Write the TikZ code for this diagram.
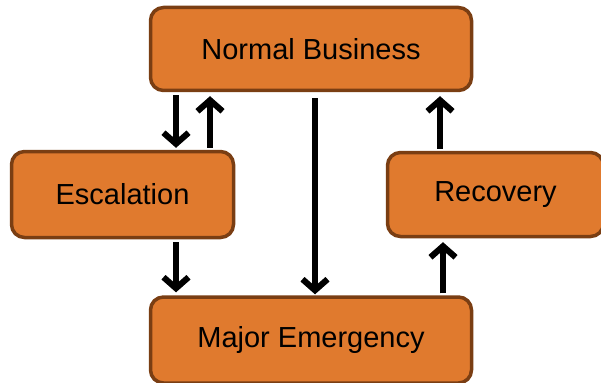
\documentclass[tikz,border=0pt]{standalone}
\usepackage{fontspec}
\setmainfont{Liberation Sans}
\usetikzlibrary{arrows.meta}
\definecolor{boxfill}{HTML}{E07A2E}
\definecolor{boxline}{HTML}{7A3E13}
\begin{document}
\begin{tikzpicture}[x=1pt,y=-1pt,
  stage/.style={draw=boxline, fill=boxfill, line width=3.5pt, rounded corners=13pt,
    inner sep=0pt, font=\fontsize{29}{34}\selectfont},
  flow/.style={draw=black, line width=6pt, -{Straight Barb[length=11pt,width=25pt]}},
  flowshade/.style={draw=black!35, line width=6pt, -{Straight Barb[length=11pt,width=25pt]}}
]
\useasboundingbox (0,0) rectangle (601,382);

% the four stages
\node[stage, minimum width=321pt, minimum height=83pt] (nb) at (311,49) {Normal Business};
\node[stage, minimum width=222pt, minimum height=86pt] (esc) at (122.5,194.5) {Escalation};
\node[stage, minimum width=216pt, minimum height=84pt] (rec) at (495.5,194.5) {Recovery};
\node[stage, minimum width=321pt, minimum height=86pt] (me) at (311,340) {Major Emergency};

% soft shade under each transition
\begin{scope}[yshift=-2.5pt]
  \draw[flowshade, shorten <=3pt, shorten >=2pt] (nb.south -| 176,0) -- (esc.north -| 176,0);
  \draw[flowshade, shorten <=2pt, shorten >=4pt] (esc.north -| 210,0) -- (nb.south -| 210,0);
  \draw[flowshade, shorten <=6pt, shorten >=1pt] (nb.south -| 315,0) -- (me.north -| 315,0);
  \draw[flowshade, shorten <=3pt, shorten >=3pt] (esc.south -| 176,0) -- (me.north -| 176,0);
  \draw[flowshade, shorten <=2pt, shorten >=4pt] (me.north -| 443,0) -- (rec.south -| 443,0);
  \draw[flowshade, shorten <=2pt, shorten >=4pt] (rec.north -| 440,0) -- (nb.south -| 440,0);
\end{scope}

% transitions
\draw[flow, shorten <=3pt, shorten >=2pt] (nb.south -| 176,0) -- (esc.north -| 176,0);
\draw[flow, shorten <=2pt, shorten >=4pt] (esc.north -| 210,0) -- (nb.south -| 210,0);
\draw[flow, shorten <=6pt, shorten >=1pt] (nb.south -| 315,0) -- (me.north -| 315,0);
\draw[flow, shorten <=3pt, shorten >=3pt] (esc.south -| 176,0) -- (me.north -| 176,0);
\draw[flow, shorten <=2pt, shorten >=4pt] (me.north -| 443,0) -- (rec.south -| 443,0);
\draw[flow, shorten <=2pt, shorten >=4pt] (rec.north -| 440,0) -- (nb.south -| 440,0);
\end{tikzpicture}
\end{document}
